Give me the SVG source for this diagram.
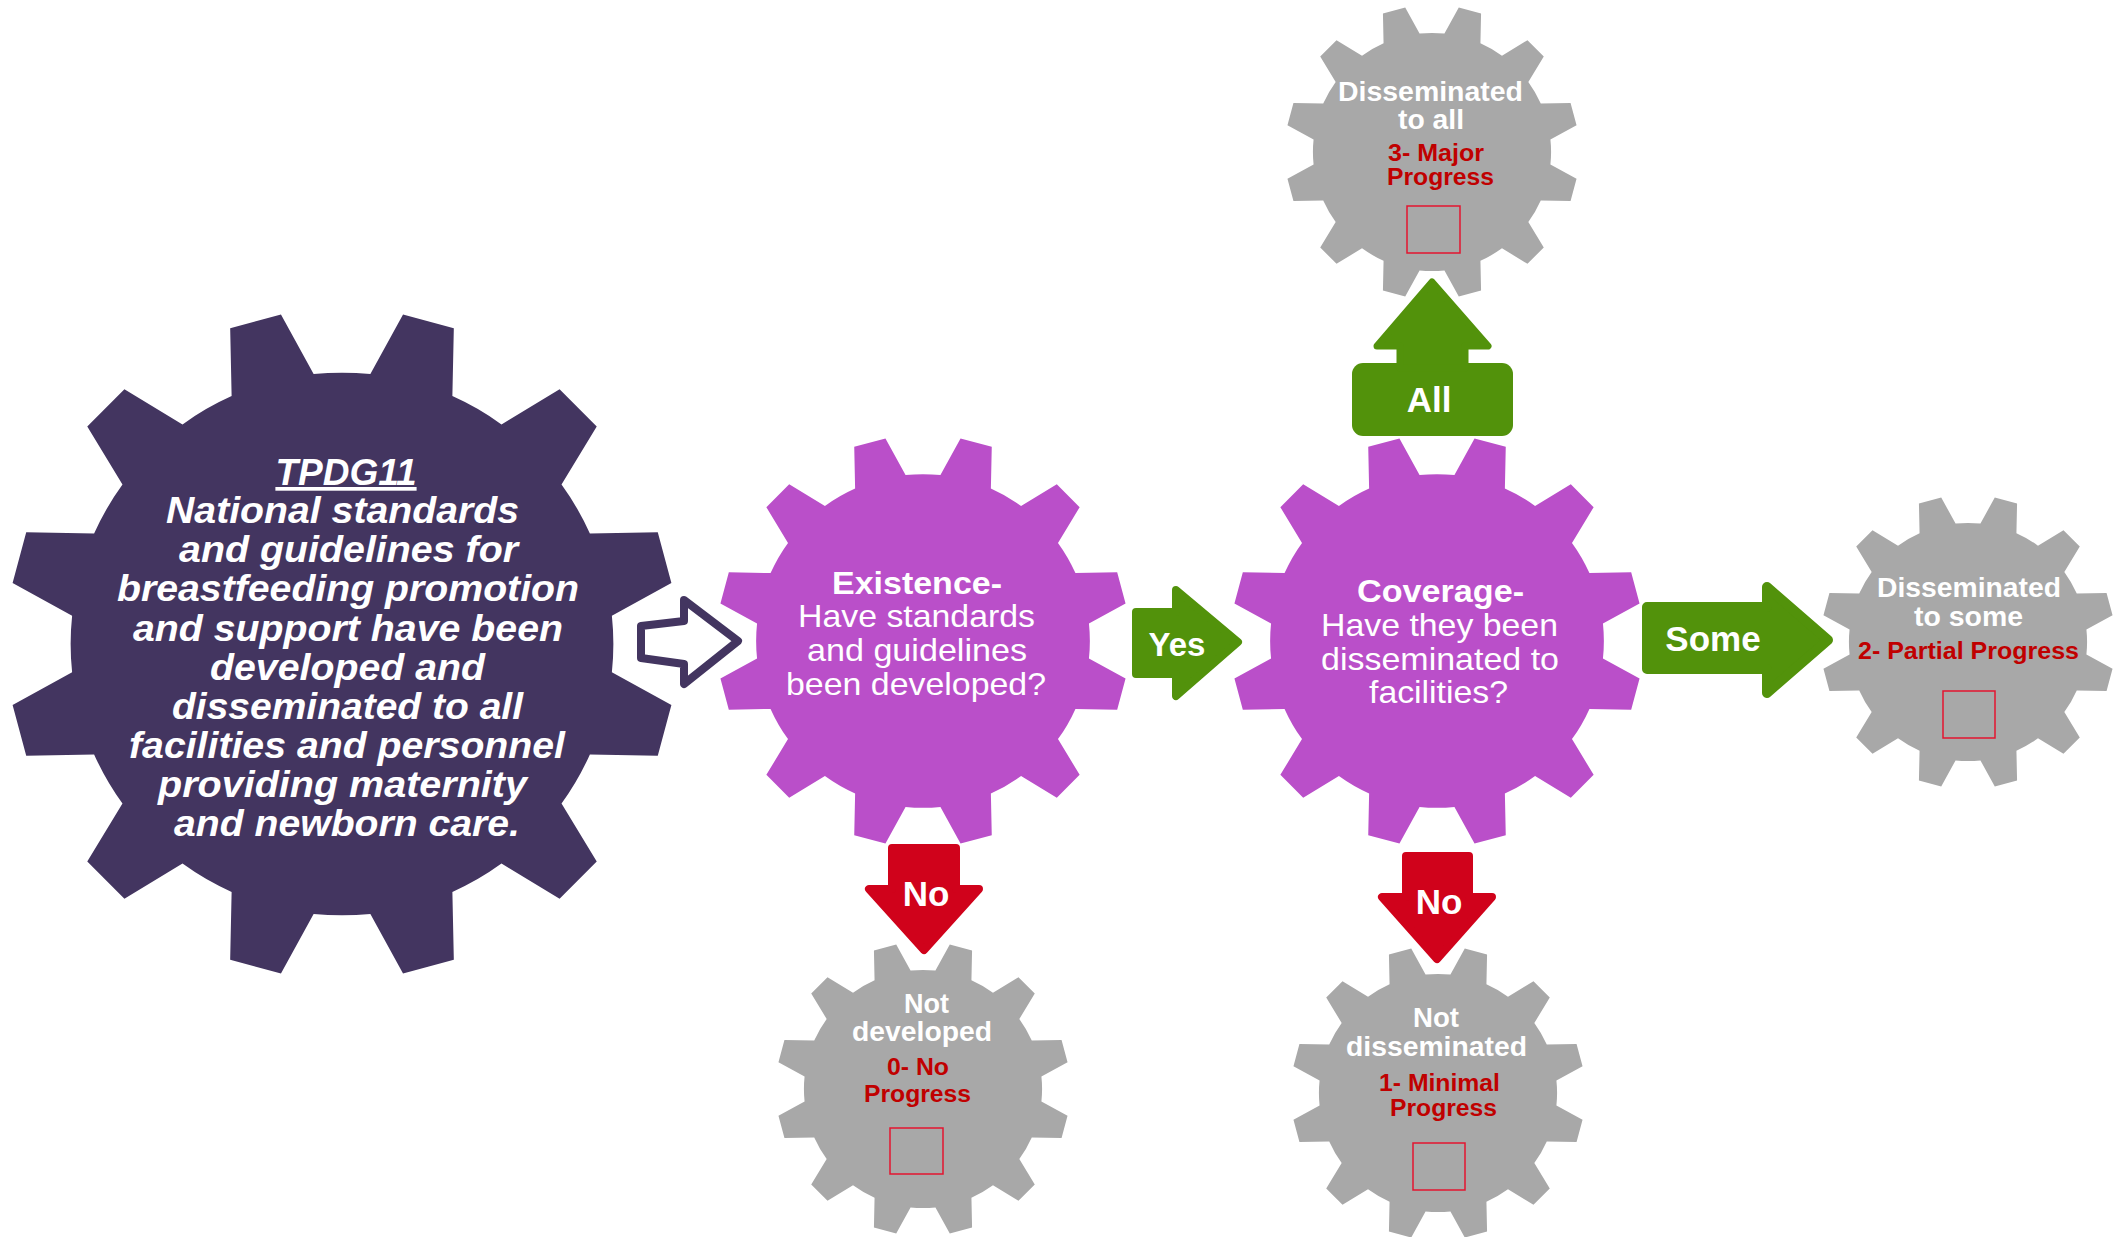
<svg xmlns="http://www.w3.org/2000/svg" width="2113" height="1237" viewBox="0 0 2113 1237">
<style>
.dk{fill:#433560}
.pu{fill:#BA4FC9}
.gy{fill:#A8A8A8}
.gr{fill:#52920B;stroke:#52920B;stroke-linejoin:round}
.rd{fill:#D0021B;stroke:#D0021B;stroke-linejoin:round}
text{font-family:"Liberation Sans",Arial,sans-serif}
.mt{font-weight:bold;font-style:italic;fill:#fff;font-size:36px}
.mh{font-weight:bold;font-style:italic;fill:#fff;font-size:37px;text-decoration:underline}
.qh{font-weight:bold;fill:#fff;font-size:32px}
.qb{fill:#fff;font-size:32px}
.wh{font-weight:bold;fill:#fff;font-size:27px}
.rt{font-weight:bold;fill:#C00000;font-size:23px}
.al{font-weight:bold;fill:#fff;font-size:35px;text-anchor:middle}
.box{fill:none;stroke:#E3142F;stroke-width:1.5}
</style>
<defs>
<path id="gear" d="M-8.47,-80.56 A81,81 0 0 1 8.47,-80.56 L18.22,-98.33 L33.38,-94.26 L32.95,-74 A81,81 0 0 1 47.61,-65.53 L64.95,-76.04 L76.04,-64.95 L65.53,-47.61 A81,81 0 0 1 74,-32.95 L94.26,-33.38 L98.33,-18.22 L80.56,-8.47 A81,81 0 0 1 80.56,8.47 L98.33,18.22 L94.26,33.38 L74,32.95 A81,81 0 0 1 65.53,47.61 L76.04,64.95 L64.95,76.04 L47.61,65.53 A81,81 0 0 1 32.95,74 L33.38,94.26 L18.22,98.33 L8.47,80.56 A81,81 0 0 1 -8.47,80.56 L-18.22,98.33 L-33.38,94.26 L-32.95,74 A81,81 0 0 1 -47.61,65.53 L-64.95,76.04 L-76.04,64.95 L-65.53,47.61 A81,81 0 0 1 -74,32.95 L-94.26,33.38 L-98.33,18.22 L-80.56,8.47 A81,81 0 0 1 -80.56,-8.47 L-98.33,-18.22 L-94.26,-33.38 L-74,-32.95 A81,81 0 0 1 -65.53,-47.61 L-76.04,-64.95 L-64.95,-76.04 L-47.61,-65.53 A81,81 0 0 1 -32.95,-74 L-33.38,-94.26 L-18.22,-98.33 Z"/>
</defs>
<rect width="2113" height="1237" fill="#fff"/>

<g id="node-tpdg11">
<use href="#gear" class="dk" transform="translate(342 644) scale(3.35)"/>
<text class="mh" x="346" y="485" text-anchor="middle">TPDG11</text>
<text class="mt" x="166" y="523" textLength="353" lengthAdjust="spacingAndGlyphs">National standards</text>
<text class="mt" x="179" y="562" textLength="339" lengthAdjust="spacingAndGlyphs">and guidelines for</text>
<text class="mt" x="117" y="601" textLength="462" lengthAdjust="spacingAndGlyphs">breastfeeding promotion</text>
<text class="mt" x="133" y="641" textLength="430" lengthAdjust="spacingAndGlyphs">and support have been</text>
<text class="mt" x="210" y="680" textLength="275" lengthAdjust="spacingAndGlyphs">developed and</text>
<text class="mt" x="172" y="719" textLength="351" lengthAdjust="spacingAndGlyphs">disseminated to all</text>
<text class="mt" x="129" y="758" textLength="436" lengthAdjust="spacingAndGlyphs">facilities and personnel</text>
<text class="mt" x="158" y="797" textLength="369" lengthAdjust="spacingAndGlyphs">providing maternity</text>
<text class="mt" x="174" y="836" textLength="346" lengthAdjust="spacingAndGlyphs">and newborn care.</text>
</g>

<g id="node-existence">
<use href="#gear" class="pu" transform="translate(923 641) scale(2.06)"/>
<text class="qh" x="832" y="594" textLength="170" lengthAdjust="spacingAndGlyphs">Existence-</text>
<text class="qb" x="798" y="627" textLength="237" lengthAdjust="spacingAndGlyphs">Have standards</text>
<text class="qb" x="807" y="661" textLength="220" lengthAdjust="spacingAndGlyphs">and guidelines</text>
<text class="qb" x="786" y="695" textLength="260" lengthAdjust="spacingAndGlyphs">been developed?</text>
</g>

<g id="node-coverage">
<use href="#gear" class="pu" transform="translate(1437 641) scale(2.06)"/>
<text class="qh" x="1357" y="602" textLength="167" lengthAdjust="spacingAndGlyphs">Coverage-</text>
<text class="qb" x="1321" y="636" textLength="237" lengthAdjust="spacingAndGlyphs">Have they been</text>
<text class="qb" x="1321" y="670" textLength="238" lengthAdjust="spacingAndGlyphs">disseminated to</text>
<text class="qb" x="1369" y="703" textLength="139" lengthAdjust="spacingAndGlyphs">facilities?</text>
</g>

<g id="node-all">
<use href="#gear" class="gy" transform="translate(1432 152) scale(1.47)"/>
<text class="wh" x="1338" y="101" textLength="185" lengthAdjust="spacingAndGlyphs">Disseminated</text>
<text class="wh" x="1398" y="129" textLength="66" lengthAdjust="spacingAndGlyphs">to all</text>
<text class="rt" x="1388" y="161" textLength="96" lengthAdjust="spacingAndGlyphs">3- Major</text>
<text class="rt" x="1387" y="185" textLength="107" lengthAdjust="spacingAndGlyphs">Progress</text>
<rect class="box" x="1407" y="206" width="53" height="47"/>
</g>

<g id="node-some">
<use href="#gear" class="gy" transform="translate(1968 642) scale(1.47)"/>
<text class="wh" x="1877" y="597" textLength="184" lengthAdjust="spacingAndGlyphs">Disseminated</text>
<text class="wh" x="1914" y="626" textLength="109" lengthAdjust="spacingAndGlyphs">to some</text>
<text class="rt" x="1858" y="659" textLength="221" lengthAdjust="spacingAndGlyphs">2- Partial Progress</text>
<rect class="box" x="1943" y="691" width="52" height="47"/>
</g>

<g id="node-not-developed">
<use href="#gear" class="gy" transform="translate(923 1089) scale(1.47)"/>
<text class="wh" x="904" y="1013" textLength="45" lengthAdjust="spacingAndGlyphs">Not</text>
<text class="wh" x="852" y="1041" textLength="140" lengthAdjust="spacingAndGlyphs">developed</text>
<text class="rt" x="887" y="1075" textLength="62" lengthAdjust="spacingAndGlyphs">0- No</text>
<text class="rt" x="864" y="1102" textLength="107" lengthAdjust="spacingAndGlyphs">Progress</text>
<rect class="box" x="890" y="1128" width="53" height="46"/>
</g>

<g id="node-not-disseminated">
<use href="#gear" class="gy" transform="translate(1438 1093) scale(1.47)"/>
<text class="wh" x="1413" y="1027" textLength="46" lengthAdjust="spacingAndGlyphs">Not</text>
<text class="wh" x="1346" y="1056" textLength="181" lengthAdjust="spacingAndGlyphs">disseminated</text>
<text class="rt" x="1379" y="1091" textLength="121" lengthAdjust="spacingAndGlyphs">1- Minimal</text>
<text class="rt" x="1390" y="1116" textLength="107" lengthAdjust="spacingAndGlyphs">Progress</text>
<rect class="box" x="1413" y="1143" width="52" height="47"/>
</g>

<g id="connectors">
<path d="M641,626 L684,621 L684,600 L738,641 L684,684 L684,664 L641,658 Z" fill="#fff" stroke="#433560" stroke-width="8" stroke-linejoin="round"/>
<g id="arrow-yes">
<path class="gr" stroke-width="8" d="M1136,612 L1176,612 L1176,590 L1238,642 L1176,696 L1176,674 L1136,674 Z"/>
<text class="al" x="1177" y="656" style="font-size:33px">Yes</text>
</g>
<g id="arrow-some">
<path class="gr" stroke-width="10" d="M1647,607 L1767,607 L1767,587 L1828,640 L1767,693 L1767,669 L1647,669 Z"/>
<text class="al" x="1713" y="651">Some</text>
</g>
<g id="arrow-all">
<rect x="1352" y="363" width="161" height="73" rx="11" fill="#52920B"/>
<path class="gr" stroke-width="7" d="M1400,368 L1400,346 L1377,346 L1432,282 L1488,346 L1465,346 L1465,368 Z"/>
<text class="al" x="1429" y="412">All</text>
</g>
<g id="arrow-no-1">
<path class="rd" stroke-width="8" d="M892,848 L956,848 L956,889 L979,889 L924,950 L869,889 L892,889 Z"/>
<text class="al" x="926" y="906">No</text>
</g>
<g id="arrow-no-2">
<path class="rd" stroke-width="8" d="M1406,856 L1469,856 L1469,897 L1492,897 L1437,959 L1382,897 L1406,897 Z"/>
<text class="al" x="1439" y="914">No</text>
</g>
</g>
</svg>
